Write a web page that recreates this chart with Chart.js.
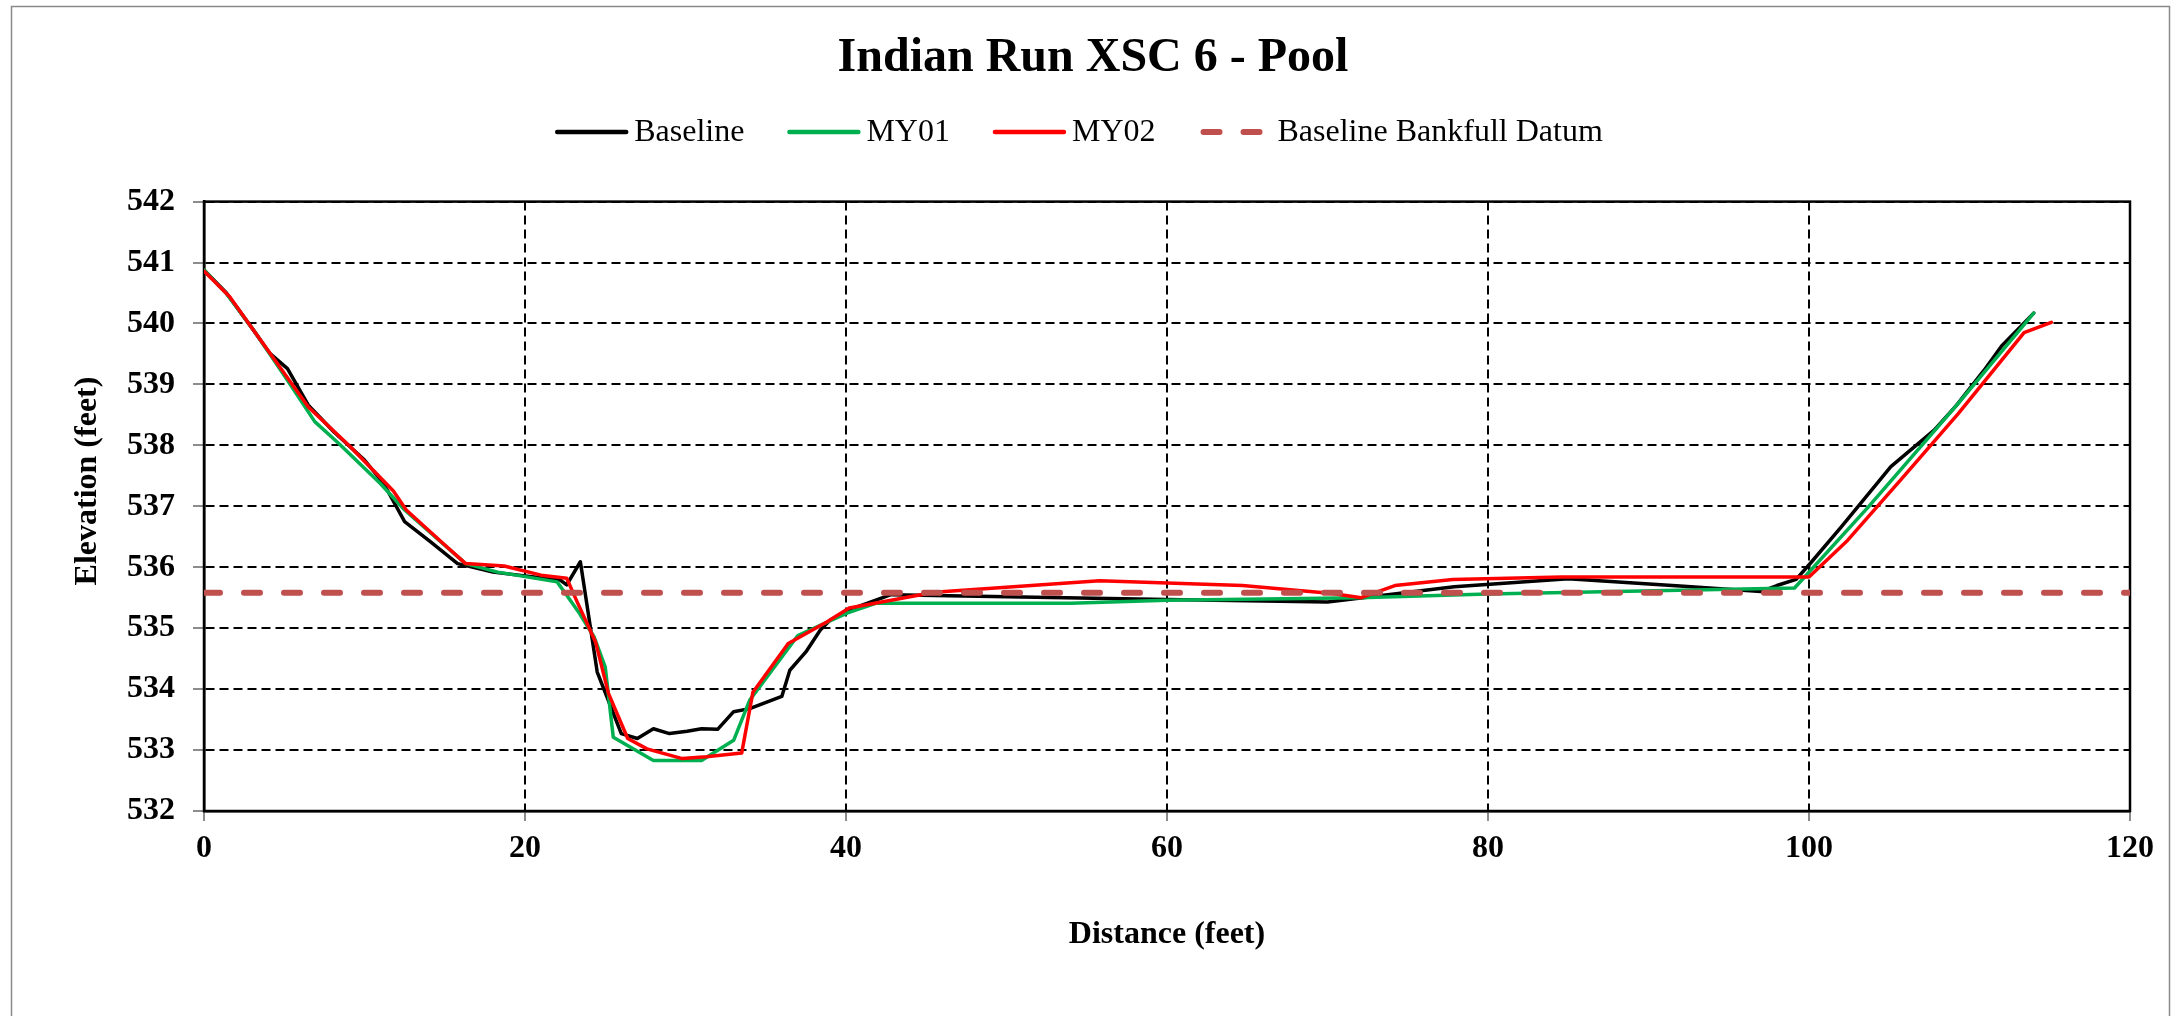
<!DOCTYPE html>
<html>
<head>
<meta charset="utf-8">
<title>Indian Run XSC 6 - Pool</title>
<script src="https://cdn.jsdelivr.net/npm/chart.js@4.4.1/dist/chart.umd.min.js"></script>
<style>
  html, body { margin: 0; padding: 0; background: #ffffff; }
  canvas { display: block; }
</style>
</head>
<body>
<canvas id="xsChart" width="2180" height="1016"></canvas>
<script>
// Cross-section survey: distance along the section (ft) and ground elevation (ft)
const seriesNames = ['Baseline', 'MY01', 'MY02', 'Baseline Bankfull Datum'];

const baselineDist = [0, 1.4, 3.0, 4.1, 5.2, 6.5, 8.1, 10.0, 11.2, 12.5, 14.1, 15.8, 18.0, 22.2, 22.6, 23.45,
  24.5, 26.0, 27.0, 28.0, 29.0, 30.1, 31.0, 32.0, 33.0, 34.0, 36.0, 36.5, 37.5, 38.4, 39.0, 40.1, 42.8,
  60.0, 70.0, 72.2, 77.9, 85.0, 92.2, 97.0, 98.0, 99.2, 100.1, 102.0, 105.1, 107.8, 109.2, 110.9, 112.0, 114.0];
const baselineElev = [540.88, 540.5, 539.92, 539.51, 539.26, 538.66, 538.22, 537.76, 537.37, 536.75, 536.42, 536.06, 535.92, 535.79, 535.71, 536.09,
  534.28, 533.27, 533.19, 533.35, 533.27, 533.31, 533.35, 533.34, 533.63, 533.68, 533.88, 534.31, 534.61, 534.97, 535.13, 535.29, 535.55,
  535.47, 535.43, 535.5, 535.68, 535.81, 535.69, 535.6, 535.7, 535.8, 536.07, 536.66, 537.65, 538.25, 538.66, 539.23, 539.63, 540.17];

const my01Dist = [0, 1.4, 3.1, 5.2, 6.9, 8.4, 11.0, 12.5, 16.3, 18.3, 22.0, 22.6, 23.4, 24.3, 25.0, 25.5, 28.0, 31.0,
  33.0, 34.0, 37.0, 40.1, 41.9, 54.0, 60.0, 72.0, 80.0, 99.1, 103.7, 109.3, 114.0];
const my01Elev = [540.88, 540.49, 539.89, 539.07, 538.39, 538.03, 537.37, 536.94, 536.06, 535.92, 535.76, 535.54, 535.24, 534.86, 534.36, 533.21, 532.83, 532.83,
  533.16, 533.82, 534.88, 535.25, 535.41, 535.41, 535.46, 535.5, 535.56, 535.66, 536.99, 538.69, 540.17];

const my02Dist = [0, 1.6, 3.9, 6.5, 9.1, 11.8, 12.6, 14.9, 16.3, 18.7, 21.0, 22.6, 23.2, 24.4, 25.2, 26.4, 27.6, 29.8,
  31.3, 33.5, 34.2, 36.4, 38.8, 40.2, 45.5, 55.8, 64.7, 70.3, 72.1, 74.2, 77.8, 84.6, 100.0, 102.4, 105.7, 109.3, 113.4, 115.1];
const my02Elev = [540.86, 540.44, 539.59, 538.63, 537.98, 537.25, 536.94, 536.39, 536.06, 536.02, 535.87, 535.82, 535.46, 534.77, 533.93, 533.19, 533.02, 532.86,
  532.89, 532.95, 533.95, 534.75, 535.1, 535.33, 535.59, 535.78, 535.7, 535.57, 535.5, 535.7, 535.8, 535.84, 535.84, 536.44, 537.43, 538.52, 539.85, 540.02];

const datumDist = [0, 120];
const datumElev = [535.58, 535.58];

const distanceTicks = [0, 20, 40, 60, 80, 100, 120];
const elevationTicks = [532, 533, 534, 535, 536, 537, 538, 539, 540, 541, 542];

const SERIF = '"Liberation Serif", "Times New Roman", Times, serif';
Chart.defaults.font.family = SERIF;
Chart.defaults.color = '#000000';

function toPoints(xs, ys) {
  return xs.map((x, i) => ({ x: x, y: ys[i] }));
}

// Outer chart border plus solid frame around the plot area
const framePlugin = {
  id: 'frame',
  beforeDraw(chart) {
    const ctx = chart.ctx;
    ctx.save();
    ctx.fillStyle = '#ffffff';
    ctx.fillRect(0, 0, chart.width, chart.height);
    ctx.strokeStyle = '#8a8a8a';
    ctx.lineWidth = 1.5;
    ctx.strokeRect(11.5, 6.5, 2158, 1200);
    ctx.restore();
  },
  beforeDatasetsDraw(chart) {
    const a = chart.chartArea;
    const ctx = chart.ctx;
    ctx.save();
    ctx.strokeStyle = '#000000';
    ctx.lineWidth = 2.5;
    ctx.setLineDash([]);
    ctx.strokeRect(a.left, a.top, a.right - a.left, a.bottom - a.top);
    ctx.restore();
  }
};

// Horizontal legend with line samples, one entry per dataset
const lineLegendPlugin = {
  id: 'lineLegend',
  afterDraw(chart, args, opts) {
    const ctx = chart.ctx;
    const sample = opts.sampleLength, gap = opts.textGap, spacing = opts.itemSpacing;
    ctx.save();
    ctx.font = opts.fontSize + 'px ' + SERIF;
    const items = chart.data.datasets.map(ds => ({ ds: ds, w: ctx.measureText(ds.label).width }));
    let total = items.reduce((s, it) => s + sample + gap + it.w, 0) + spacing * (items.length - 1);
    let x = opts.centerX - total / 2;
    const y = opts.y;
    items.forEach(it => {
      const ds = it.ds;
      ctx.beginPath();
      ctx.strokeStyle = ds.borderColor;
      ctx.lineWidth = ds.legendWidth || ds.borderWidth;
      ctx.lineCap = 'round';
      ctx.setLineDash(ds.borderDash || []);
      const inset = (ds.borderDash && ds.borderDash.length) ? ds.borderWidth / 2 : 0;
      ctx.moveTo(x + inset, y);
      ctx.lineTo(x + sample, y);
      ctx.stroke();
      ctx.setLineDash([]);
      ctx.fillStyle = '#000000';
      ctx.textBaseline = 'middle';
      ctx.textAlign = 'left';
      ctx.fillText(ds.label, x + sample + gap, y + 1);
      x += sample + gap + it.w + spacing;
    });
    ctx.restore();
  }
};

// Vertical axis title
const yTitlePlugin = {
  id: 'yTitle',
  afterDraw(chart, args, opts) {
    const ctx = chart.ctx;
    ctx.save();
    ctx.translate(opts.x, opts.y);
    ctx.rotate(-Math.PI / 2);
    ctx.font = 'bold ' + opts.fontSize + 'px ' + SERIF;
    ctx.fillStyle = '#000000';
    ctx.textAlign = 'center';
    ctx.textBaseline = 'middle';
    ctx.fillText(opts.text, 0, 0);
    ctx.restore();
  }
};

const gridDash = [9, 5];

new Chart(document.getElementById('xsChart'), {
  type: 'line',
  data: {
    datasets: [
      {
        label: seriesNames[0], data: toPoints(baselineDist, baselineElev),
        borderColor: '#000000', borderWidth: 3.5, legendWidth: 4.5, order: 4
      },
      {
        label: seriesNames[1], data: toPoints(my01Dist, my01Elev),
        borderColor: '#00B050', borderWidth: 3.5, legendWidth: 4.5, order: 3
      },
      {
        label: seriesNames[2], data: toPoints(my02Dist, my02Elev),
        borderColor: '#FF0000', borderWidth: 3.5, legendWidth: 4.5, order: 2
      },
      {
        label: seriesNames[3], data: toPoints(datumDist, datumElev),
        borderColor: '#C0504D', borderWidth: 6, borderDash: [16, 24], borderCapStyle: 'round', order: 1
      }
    ]
  },
  options: {
    responsive: false,
    animation: false,
    devicePixelRatio: 1,
    layout: { padding: { top: 0, left: 56, right: 50, bottom: 0 } },
    elements: {
      point: { radius: 0, hoverRadius: 0 },
      line: { tension: 0, fill: false, borderJoinStyle: 'round', borderCapStyle: 'round' }
    },
    plugins: {
      legend: { display: false },
      tooltip: { enabled: false },
      title: {
        display: true,
        text: 'Indian Run XSC 6 - Pool',
        color: '#000000',
        font: { family: SERIF, size: 48, weight: 'bold', lineHeight: 1.2 },
        padding: { top: 30, bottom: 114 }
      },
      lineLegend: { centerX: 1080, y: 132, fontSize: 32, sampleLength: 69, textGap: 8, itemSpacing: 45 },
      yTitle: { text: 'Elevation (feet)', x: 88, y: 481, fontSize: 32 }
    },
    scales: {
      x: {
        type: 'linear',
        min: 0, max: 120,
        afterBuildTicks: s => { s.ticks = distanceTicks.map(v => ({ value: v })); },
        afterFit: s => { s.height = 205; },
        ticks: {
          font: { family: SERIF, size: 32, weight: 'bold' },
          color: '#000000',
          padding: 9,
          maxRotation: 0,
          autoSkip: false
        },
        grid: {
          color: '#000000', lineWidth: 2,
          drawTicks: true, tickLength: 10, tickColor: '#666666', tickWidth: 1.5, tickBorderDash: []
        },
        border: { display: true, color: '#000000', width: 2.5, dash: gridDash },
        title: {
          display: true,
          text: 'Distance (feet)',
          color: '#000000',
          font: { family: SERIF, size: 32, weight: 'bold' },
          padding: { top: 0, bottom: 62 }
        }
      },
      y: {
        type: 'linear',
        min: 532, max: 542,
        afterBuildTicks: s => { s.ticks = elevationTicks.map(v => ({ value: v })); },
        afterFit: s => { s.width = 148; },
        ticks: {
          font: { family: SERIF, size: 32, weight: 'bold' },
          color: '#000000',
          padding: 18,
          autoSkip: false
        },
        grid: {
          color: '#000000', lineWidth: 2,
          drawTicks: true, tickLength: 11, tickColor: '#666666', tickWidth: 1.5, tickBorderDash: []
        },
        border: { display: true, color: '#000000', width: 2.5, dash: gridDash },
        title: { display: false }
      }
    }
  },
  plugins: [framePlugin, lineLegendPlugin, yTitlePlugin]
});
</script>
</body>
</html>
